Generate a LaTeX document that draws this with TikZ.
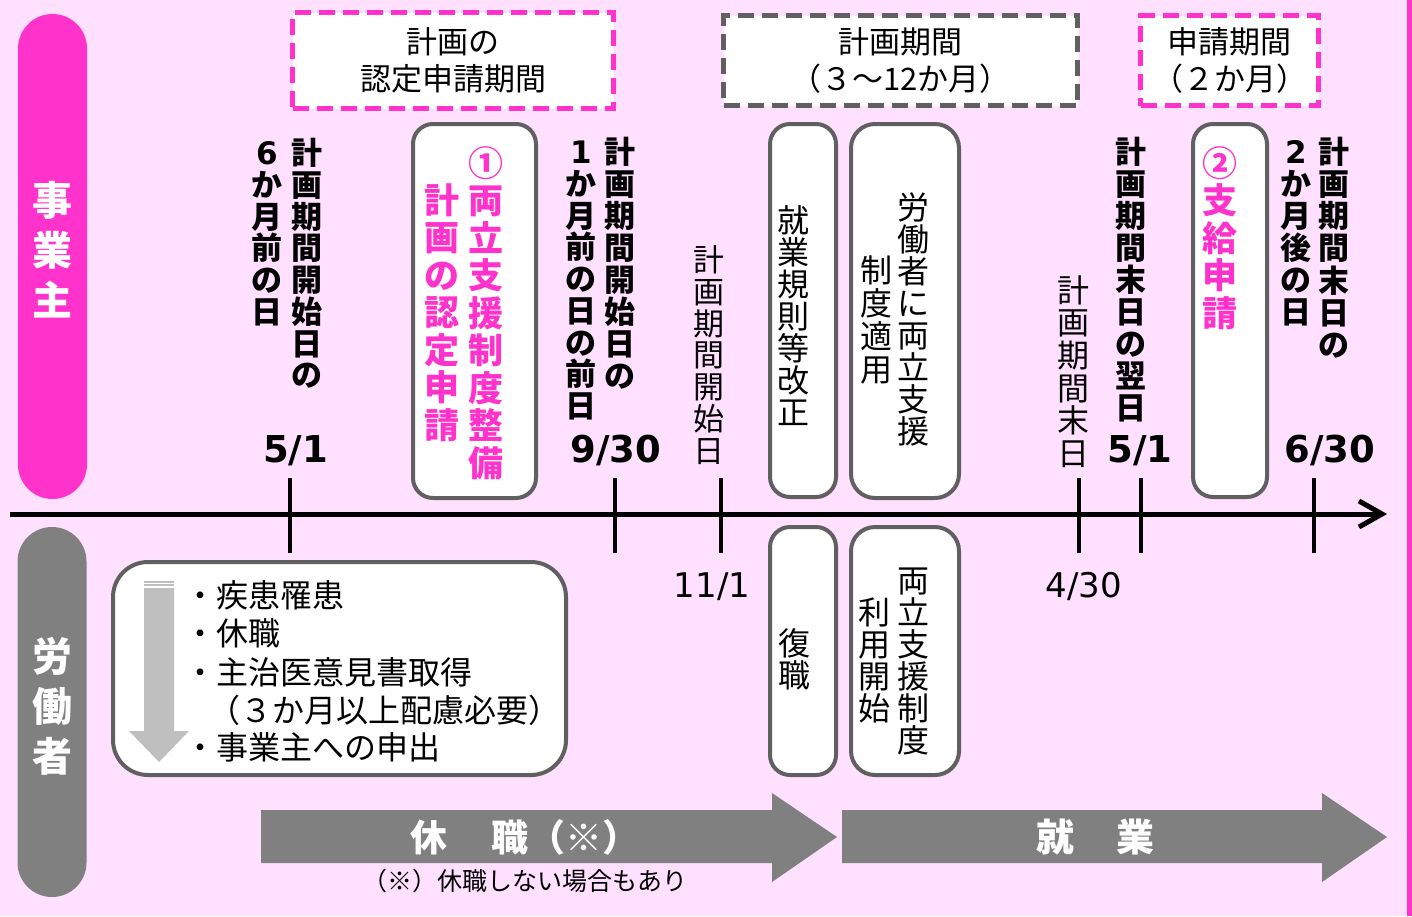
\documentclass[tikz,border=0pt]{standalone}
\usepackage{fontspec}
\setmainfont{Noto Sans CJK JP}
\newfontfamily\dv{DejaVu Sans}
\usetikzlibrary{calc}
\definecolor{bgpink}{HTML}{FFE1FF}
\definecolor{mag}{HTML}{FF33CC}
\definecolor{dgray}{HTML}{606060}
\definecolor{agray}{HTML}{808080}
\definecolor{lgray}{HTML}{BFBFBF}
\newcommand\fs[1]{\fontsize{#1}{#1}\selectfont}
% vertical column of characters: name, x, baseline of first char, pitch, list
\newcommand\vcol[5]{%
  \foreach \c [count=\i] in {#5} {\node[anchor=base,inner sep=0pt] (#1\i) at (#2,{#3+(\i-1)*#4}) {\c};}}
\tikzset{
  rbox/.style={draw=dgray, line width=4pt, fill=white, rounded corners=20pt, inner sep=0pt},
  dbox/.style={line width=5pt, fill=white, dash pattern=on 16pt off 8pt, inner sep=0pt, align=center, font=\fontsize{31}{37}\selectfont},
  pill/.style={rounded corners=34.5pt, inner sep=0pt, minimum width=69pt},
  tickline/.style={line width=3.5pt},
  bigarrow/.style={fill=agray},
}
\begin{document}
\begin{tikzpicture}[x=1pt,y=-1pt]
\useasboundingbox (0,0) rectangle (1412,916);
\fill[bgpink] (0,0) rectangle (1412,916);
\fill[mag] (1407,0) rectangle (1412,916);

% side pills
\node[pill, fill=mag, minimum height=485pt] (pillA) at (52.5,256.5) {};
\node[pill, fill=agray, minimum height=370pt] (pillB) at (52,712) {};
\begin{scope}[font=\bfseries\fs{40}, text=white]
  \vcol{pa}{52}{215.2}{50}{事,業,主}
  \vcol{pb}{52}{671.2}{50}{労,働,者}
\end{scope}

% dashed boxes
\node[dbox, draw=mag, minimum width=321pt, minimum height=96pt] (p1) at (453,60.5) {計画の\\認定申請期間};
\node[dbox, draw=dgray, minimum width=354pt, minimum height=90pt] (p2) at (900.5,60.5) {計画期間\\（３～12か月）};
\node[dbox, draw=mag, minimum width=178pt, minimum height=90pt] (p3) at (1229.5,60.5) {申請期間\\（２か月）};

% rounded boxes
\node[rbox, minimum width=123pt, minimum height=374pt] (bA) at (474.5,311) {};
\node[rbox, minimum width=66pt, minimum height=373pt] (bB) at (803,310.5) {};
\node[rbox, minimum width=108pt, minimum height=374pt, rounded corners=24pt] (bC) at (905,311) {};
\node[rbox, minimum width=74pt, minimum height=373pt] (bD) at (1230,310.5) {};
\node[rbox, minimum width=66pt, minimum height=248pt] (bE) at (803,651) {};
\node[rbox, minimum width=108pt, minimum height=248pt, rounded corners=24pt] (bF) at (905,651) {};
\node[rbox, minimum width=453pt, minimum height=213pt, rounded corners=35pt] (bG) at (339.5,668.5) {};

% axis
\coordinate (axL) at (10,514);
\coordinate (axR) at (1382,514);
\draw[line width=5pt] (axL) -- (axR);
\draw[line width=5pt, line join=miter] ($(axR)+(-23,-13)$) -- (axR) -- ($(axR)+(-23,13)$);
\foreach \n/\x in {ta/290, tb/615, tc/721, td/1079, te/1141, tf/1314} {
  \coordinate (\n top) at (\x,478);
  \coordinate (\n bot) at (\x,553);
  \draw[tickline] (\n top) -- (\n bot);
}

% dates
\begin{scope}[font=\dv\bfseries\fs{37}]
  \node[anchor=base] (d1) at (295.5,462) {5/1};
  \node[anchor=base] (d2) at (616,462) {9/30};
  \node[anchor=base] (d3) at (1140,462) {5/1};
  \node[anchor=base] (d4) at (1330,462) {6/30};
\end{scope}
\begin{scope}[font=\dv\fs{34}]
  \node[anchor=base] (d5) at (712,597.5) {11/1};
  \node[anchor=base] (d6) at (1084,597.5) {4/30};
\end{scope}

% vertical texts, bold black
\begin{scope}[font=\bfseries\fs{31}]
  \vcol{a}{307}{164.8}{31.7}{計,画,期,間,開,始,日,の}
  \vcol{b}{267}{164.8}{31.7}{{\dv\bfseries 6},か,月,前,の,日}
  \vcol{c}{620}{163.8}{31.9}{計,画,期,間,開,始,日,の}
  \vcol{e}{581}{163.8}{31.7}{{\dv\bfseries 1},か,月,前,の,日,の,前,日}
  \vcol{h}{1131}{163.8}{31.9}{計,画,期,間,末,日,の,翌,日}
  \vcol{j}{1334}{163}{32.3}{計,画,期,間,末,日,の}
  \vcol{k}{1296}{163.8}{32}{{\dv\bfseries 2},か,月,後,の,日}
\end{scope}
% pink bold
\begin{scope}[font=\bfseries\fs{35}, text=mag]
  \vcol{m}{486}{176.3}{37.5}{①,両,立,支,援,制,度,整,備}
  \vcol{n}{442}{213.3}{37.5}{計,画,の,認,定,申,請}
  \vcol{q}{1220}{176.3}{37.5}{②,支,給,申,請}
\end{scope}
% regular
\begin{scope}[font=\fs{31}]
  \vcol{r}{709}{271.8}{31.7}{計,画,期,間,開,始,日}
\end{scope}
\begin{scope}[font=\fs{32}]
  \vcol{s}{793}{232.2}{32}{就,業,規,則,等,改,正}
  \vcol{u}{913}{219.2}{32.1}{労,働,者,に,両,立,支,援}
  \vcol{v}{876}{282.2}{33}{制,度,適,用}
  \vcol{w}{1073}{302.2}{32.6}{計,画,期,間,末,日}
  \vcol{x}{794}{655.2}{32}{復,職}
  \vcol{y}{913}{592.2}{32}{両,立,支,援,制,度}
  \vcol{z}{874}{624.2}{32}{利,用,開,始}
\end{scope}

% inner arrow of list box
\fill[lgray] (144,580.5) rectangle (174,582.5);
\fill[lgray] (144,584) rectangle (174,586);
\fill[lgray] (144,588) -- (174,588) -- (174,731) -- (189,731) -- (159,762) -- (129,731) -- (144,731) -- cycle;

% list text
\begin{scope}[font=\fs{32}]
  \node[anchor=base west, inner sep=0pt] (l1) at (184,607.2) {・疾患罹患};
  \node[anchor=base west, inner sep=0pt] (l2) at (184,645.2) {・休職};
  \node[anchor=base west, inner sep=0pt] (l3) at (184,684.2) {・主治医意見書取得};
  \node[anchor=base west, inner sep=0pt] (l4) at (208,722.2) {（３か月以上配慮必要）};
  \node[anchor=base west, inner sep=0pt] (l5) at (184,759.2) {・事業主への申出};
\end{scope}

% bottom arrows
\fill[bigarrow] (261,810) -- (772,810) -- (772,793) -- (837,837) -- (772,882) -- (772,863) -- (261,863) -- cycle;
\fill[bigarrow] (842,810) -- (1322,810) -- (1322,793) -- (1387,837) -- (1322,882) -- (1322,863) -- (842,863) -- cycle;
\node[anchor=base, text=white, font=\bfseries\fs{37}] (kyu) at (525,851) {休\hspace{45pt}職（※）};
\node[anchor=base, text=white, font=\bfseries\fs{38}] (shu) at (1095,851.4) {就\hspace{42pt}業};
\node[anchor=base, font=\fs{25}] (note) at (525,890.5) {（※）休職しない場合もあり};
\end{tikzpicture}
\end{document}
